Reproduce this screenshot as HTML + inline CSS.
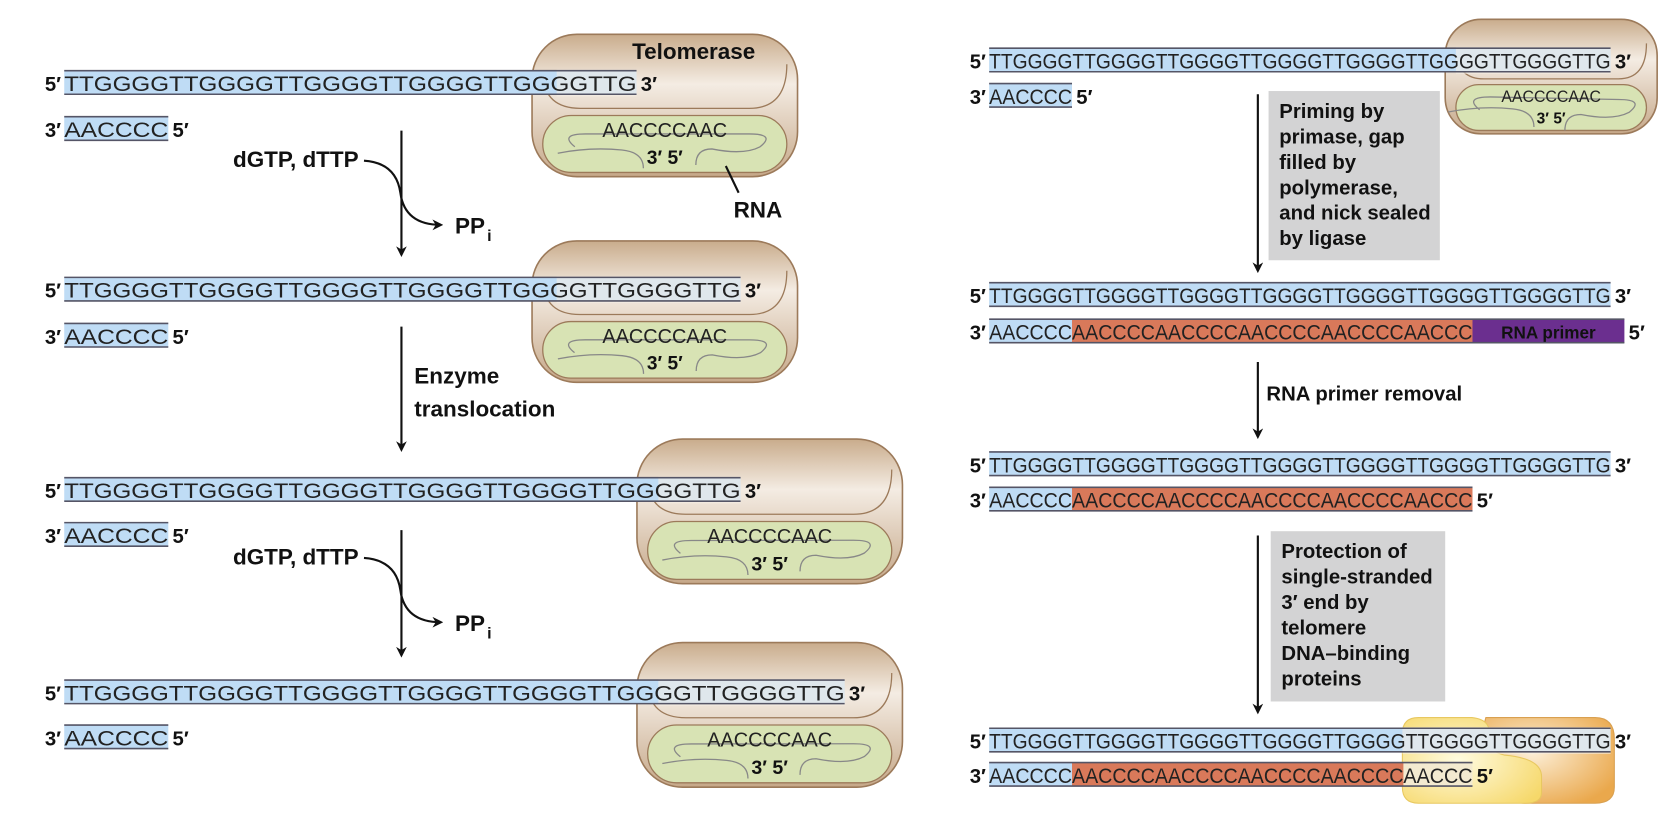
<!DOCTYPE html>
<html><head><meta charset="utf-8"><style>
html,body{margin:0;padding:0;background:#fff;}
svg{display:block;}
.seq{font-family:"Liberation Sans",sans-serif;fill:#222;}
.lbl{font-family:"Liberation Sans",sans-serif;font-weight:bold;fill:#111;}
</style></head><body>
<svg id="fig" width="1670" height="830" viewBox="0 0 1560 775" preserveAspectRatio="none" xmlns="http://www.w3.org/2000/svg">
<defs>
<linearGradient id="enz" x1="0" y1="0" x2="0" y2="1"><stop offset="0" stop-color="#c9ac8c"/><stop offset="0.35" stop-color="#f4ece3"/><stop offset="1" stop-color="#c6a889"/></linearGradient>
<radialGradient id="yel" cx="0.4" cy="0.5" r="0.7"><stop offset="0" stop-color="#fffbe0"/><stop offset="1" stop-color="#f6d86a"/></radialGradient>
<radialGradient id="org" cx="0.4" cy="0.4" r="0.7"><stop offset="0" stop-color="#fcefd8"/><stop offset="1" stop-color="#eaa84c"/></radialGradient>
<marker id="ah" markerWidth="10" markerHeight="10" refX="8" refY="5" orient="auto" markerUnits="userSpaceOnUse"><path d="M0,0 L10,5 L0,10 L3,5 Z" fill="#111"/></marker>
</defs>
<g id="content"></g>
</svg>
<script>
const svg=document.getElementById('content');
const NS='http://www.w3.org/2000/svg';
function mk(tag,attrs,parent){const e=document.createElementNS(NS,tag);for(const k in attrs)e.setAttribute(k,attrs[k]);(parent||svg).appendChild(e);return e;}
function txt(x,y,s,size,cls,anchor,parent){const t=mk('text',{x:x,y:y,'font-size':size,class:cls,'text-anchor':anchor||'start'},parent);t.textContent=s;return t;}

function enzyme(x,y,w,h,name){
  const g=mk('g',{});
  
  
  const k=h/133;
  mk('rect',{x:x,y:y,width:w,height:h,rx:42*k,fill:'url(#enz)',stroke:'#9c7a5a','stroke-width':1.5},g);
  mk('path',{d:`M${x+10},${y+38*k} Q${x+12},${y+h*0.52} ${x+45*k},${y+h*0.52} L${x+w-45*k},${y+h*0.52} Q${x+w-10},${y+h*0.52} ${x+w-10},${y+28*k}`,fill:'none',stroke:'#9c7a5a','stroke-width':1.2},g);
  const gy=y+h*0.57, gh=h*0.4;
  mk('rect',{x:x+10,y:gy,width:w-20,height:gh,rx:gh/2,fill:'#d8e3b4',stroke:'#9c7a5a','stroke-width':1.2},g);
  const cx=x+w/2, my=gy+gh*0.55;
  mk('path',{d:`M${x+40*k},${my} q-15,-12 10,-12 L${x+w-45*k},${my-12*k} q25,0 10,12 q-15,8 -45,2 q-15,0 -15,15 M${cx-20*k},${my+20*k} q0,-15 -20,-17 q-30,-3 -60,3`,fill:'none',stroke:'#888','stroke-width':1.2},g);
  const t=txt(cx,gy+20*k,'AACCCCAAC',19*k,'seq','middle',g);
  t.setAttribute('textLength',w*0.47);t.setAttribute('lengthAdjust','spacingAndGlyphs');
  txt(cx,gy+gh-8*k,'3′  5′',18*k,'lbl','middle',g);
  return g;
}

function strand(x,y,cw,segs,name,fade){
  const g=mk('g',{});
  
  
  let cx=x;
  segs.forEach(s=>{const w=s[0].length*cw;mk('rect',{x:cx,y:y-12,width:w,height:22,fill:s[1]},g);cx+=w;});
  const end=cx;
  if(fade){mk('rect',{x:fade,y:y-13,width:end-fade,height:25,fill:'rgba(245,238,230,0.6)'},g);}
  cx=x;
  segs.forEach(s=>{
    const w=s[0].length*cw;
    if(s[2]){const t=txt(cx+w/2,y+6,s[0],16,'lbl','middle',g);t.setAttribute('fill','#fff');}
    else{const t=txt(cx,y+7,s[0],20,'seq','start',g);t.setAttribute('textLength',w);t.setAttribute('lengthAdjust','spacingAndGlyphs');}
    cx+=w;
  });
  mk('line',{x1:x,y1:y-12,x2:end,y2:y-12,stroke:'#556','stroke-width':1.5},g);
  mk('line',{x1:x,y1:y+10,x2:end,y2:y+10,stroke:'#556','stroke-width':1.5},g);
  return end;
}
function ends(x1,x2,y,a,b){txt(x1-3,y+7,a,19,'lbl','end');txt(x2+4,y+7,b,19,'lbl','start');}

const BLUE='#bfdcf5', ORANGE='#d9795a', PURPLE='#6b2f8f';
const L=60, LC=16.2, R=924, RC=12.9;
const R1='TTGGGGTTGGGGTTGGGGTTGGGGTTGGGGTTG';
const R2='TTGGGGTTGGGGTTGGGGTTGGGGTTGGGGTTGGGGTTG';
const R4='TTGGGGTTGGGGTTGGGGTTGGGGTTGGGGTTGGGGTTGGGGTTG';

enzyme(497,32,248,133,'telomerase-1');
txt(648,55,'Telomerase',21,'lbl','middle');
let e=strand(L,78,LC,[[R1,BLUE]],'dna-top-1',520); ends(L,e,78,'5′','3′');
e=strand(L,121,LC,[['AACCCC',BLUE]],'dna-bottom-1'); ends(L,e,121,'3′','5′');
mk('line',{x1:678,y1:155,x2:690,y2:180,stroke:'#111','stroke-width':2});
txt(708,203,'RNA',21,'lbl','middle');

function stepArrow(x,y1,y2,name){const l=mk('line',{x1:x,y1:y1,x2:x,y2:y2,stroke:'#111','stroke-width':2,'marker-end':'url(#ah)'});}
function nucleotide(yt,n){
  const t=txt(335,yt,'dGTP, dTTP',21,'lbl','end');
  mk('path',{d:`M340,${yt-6} q30,2 34,30 q4,30 38,30`,fill:'none',stroke:'#111','stroke-width':2,'marker-end':'url(#ah)'});
  const p=txt(425,yt+62,'PP',21,'lbl','start');
  txt(455,yt+69,'i',15,'lbl','start');
}
stepArrow(375,122,238,'arrow-step-1'); nucleotide(156,1);

enzyme(497,225,248,132,'telomerase-2');
e=strand(L,271,LC,[[R2,BLUE]],'dna-top-2',520); ends(L,e,271,'5′','3′');
e=strand(L,314,LC,[['AACCCC',BLUE]],'dna-bottom-2'); ends(L,e,314,'3′','5′');
stepArrow(375,305,420,'arrow-step-2');
txt(387,358,'Enzyme',21,'lbl');
txt(387,389,'translocation',21,'lbl');

enzyme(595,410,248,135,'telomerase-3');
e=strand(L,458,LC,[[R2,BLUE]],'dna-top-3',615); ends(L,e,458,'5′','3′');
e=strand(L,500,LC,[['AACCCC',BLUE]],'dna-bottom-3'); ends(L,e,500,'3′','5′');
stepArrow(375,495,612,'arrow-step-3'); nucleotide(527,2);

enzyme(595,600,248,135,'telomerase-4');
e=strand(L,647,LC,[[R4,BLUE]],'dna-top-4',615); ends(L,e,647,'5′','3′');
e=strand(L,689,LC,[['AACCCC',BLUE]],'dna-bottom-4'); ends(L,e,689,'3′','5′');

enzyme(1350,18,198,107,'telomerase-right');
e=strand(R,57,RC,[[R4,BLUE]],'right-dna-top-1',1360); ends(R,e,57,'5′','3′');
e=strand(R,90,RC,[['AACCCC',BLUE]],'right-dna-bottom-1'); ends(R,e,90,'3′','5′');

function grayBox(x,y,w,h,lines,name){
  const r=mk('rect',{x:x,y:y,width:w,height:h,fill:'#d3d3d4'});
  
  
  lines.forEach((s,i)=>txt(x+10,y+25+i*23.8,s,19,'lbl'));
}
stepArrow(1175,88,253,'arrow-priming');
grayBox(1185,85,160,158,['Priming by','primase, gap','filled by','polymerase,','and nick sealed','by ligase'],'priming-note');

const ORG='AACCCCAACCCCAACCCCAACCCCAACCC';
e=strand(R,276,RC,[[R4,BLUE]],'right-dna-top-2'); ends(R,e,276,'5′','3′');
e=strand(R,310,RC,[['AACCCC',BLUE],[ORG,ORANGE],['RNA primer ',PURPLE,true]],'right-dna-bottom-2'); ends(R,e,310,'3′','5′');

stepArrow(1175,338,408,'arrow-primer-removal');
txt(1183,374,'RNA primer removal',19,'lbl');

e=strand(R,434,RC,[[R4,BLUE]],'right-dna-top-3'); ends(R,e,434,'5′','3′');
e=strand(R,467,RC,[['AACCCC',BLUE],[ORG,ORANGE]],'right-dna-bottom-3'); ends(R,e,467,'3′','  5′');

stepArrow(1175,500,665,'arrow-protection');
grayBox(1187,496,163,159,['Protection of','single-stranded','3′ end by','telomere','DNA–binding','proteins'],'protection-note');

const pg=mk('g',{});


mk('path',{d:'M1388,670 L1490,670 Q1508,670 1508,690 L1508,735 Q1508,750 1490,750 L1425,750 Q1405,750 1405,725 Q1400,705 1380,700 Z',fill:'url(#org)',stroke:'#d9a050','stroke-width':1},pg);
mk('path',{d:'M1325,670 L1375,670 Q1395,672 1390,690 Q1388,700 1405,705 Q1440,708 1440,725 L1440,740 Q1440,750 1425,750 L1325,750 Q1310,750 1310,735 L1310,685 Q1310,670 1325,670 Z',fill:'url(#yel)',stroke:'#e8c860','stroke-width':1},pg);
e=strand(R,692,RC,[[R4,BLUE]],'right-dna-top-4',1310); ends(R,e,692,'5′','  3′');
e=strand(R,724,RC,[['AACCCC',BLUE],['AACCCCAACCCCAACCCCAACCCC',ORANGE],['AACCC','#f3ead0']],'right-dna-bottom-4'); ends(R,e,724,'3′','  5′');
</script>
</body></html>
